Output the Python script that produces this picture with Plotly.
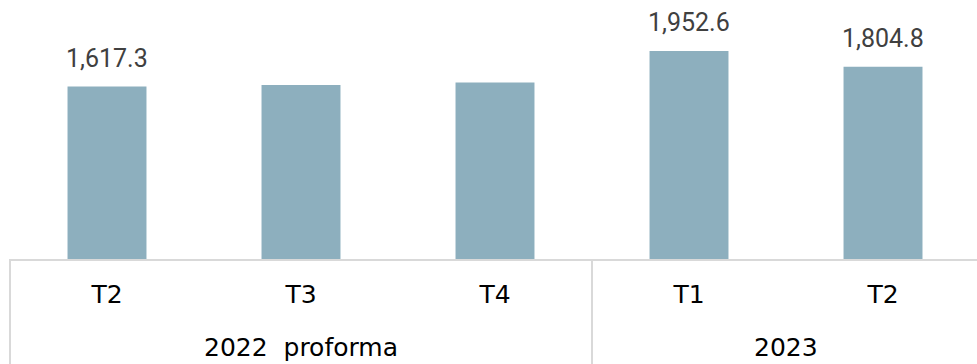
import plotly.graph_objects as go

# Quarterly values, grouped by year
years = ["2022  proforma", "2022  proforma", "2022  proforma", "2023", "2023"]
quarters = ["T2", "T3", "T4", "T1", "T2"]
values = [1617.3, 1633.0, 1655.0, 1952.6, 1804.8]
show_label = [True, False, False, True, True]

bar_color = "#8DAFBE"
grid_color = "#D9D9D9"

positions = list(range(len(values)))
x_range = [-0.5, 4.4845]

fig = go.Figure()
fig.add_trace(go.Bar(
    x=positions,
    y=values,
    width=0.407,
    marker=dict(color=bar_color, line=dict(width=0)),
    hoverinfo="skip",
))

# Value labels above selected bars
for i, (v, show) in enumerate(zip(values, show_label)):
    if show:
        fig.add_annotation(
            x=i, y=v, xref="x", yref="y",
            text=f"{v:,.1f}",
            showarrow=False,
            yanchor="bottom",
            yshift=12,
            font=dict(family="Roboto", size=25, color="#404040"),
        )

# Year groups: label centred under its quarters, divider at each group start
def to_paper(xv):
    return (xv - x_range[0]) / (x_range[1] - x_range[0])

groups = []
for i, y in enumerate(years):
    if not groups or groups[-1][0] != y:
        groups.append([y, i, i])
    else:
        groups[-1][2] = i

for name, start, end in groups:
    fig.add_annotation(
        x=(start + end) / 2, y=-0.34, xref="x", yref="paper",
        text=name, showarrow=False, yanchor="middle",
        font=dict(family="DejaVu Sans", size=25, color="black"),
    )
    fig.add_shape(
        type="line", xref="paper", yref="paper",
        x0=to_paper(start - 0.5), x1=to_paper(start - 0.5),
        y0=0, y1=-0.45,
        line=dict(color=grid_color, width=2),
    )

fig.update_layout(
    width=977,
    height=364,
    margin=dict(l=10, r=0, t=0, b=105),
    paper_bgcolor="white",
    plot_bgcolor="white",
    showlegend=False,
    xaxis=dict(
        range=x_range,
        tickmode="array",
        tickvals=positions,
        ticktext=quarters,
        showline=True,
        linecolor=grid_color,
        linewidth=2,
        showgrid=False,
        zeroline=False,
        ticks="",
        ticklabelstandoff=12,
        tickfont=dict(family="DejaVu Sans", size=25, color="black"),
        fixedrange=True,
    ),
    yaxis=dict(
        range=[0, 2430],
        visible=False,
        fixedrange=True,
    ),
)

fig.write_html("out.html")
